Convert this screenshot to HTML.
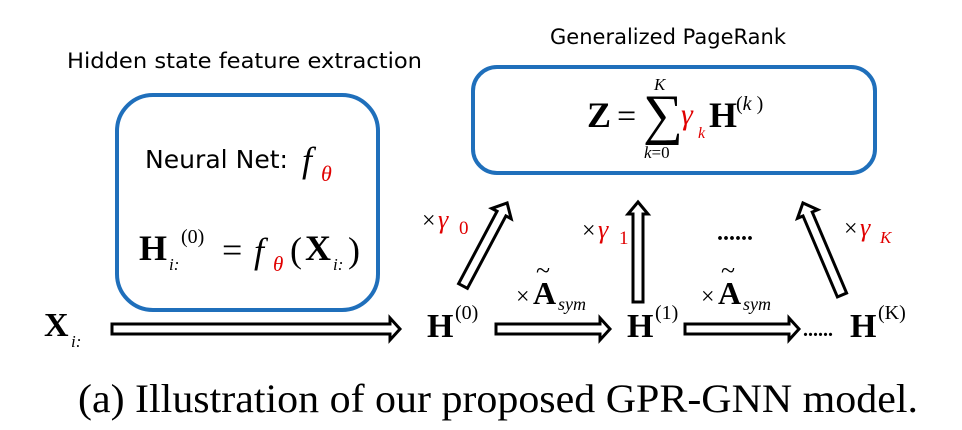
<!DOCTYPE html>
<html><head><meta charset="utf-8"><style>
html,body{margin:0;padding:0;background:#fff;}
svg{display:block;}
.s{font-family:"DejaVu Sans","Liberation Sans",sans-serif;}
.m{font-family:"Liberation Serif",serif;}
.r{fill:#e00000;}
</style></head><body>
<svg width="962" height="430" viewBox="0 0 962 430" xmlns="http://www.w3.org/2000/svg">
<rect x="117" y="95" width="261" height="215" rx="36" fill="none" stroke="#1f6fbb" stroke-width="4"/>
<rect x="473" y="67" width="402" height="106" rx="24" fill="none" stroke="#1f6fbb" stroke-width="4"/>
<text class="s" x="67" y="68" font-size="21" textLength="355" lengthAdjust="spacingAndGlyphs">Hidden state feature extraction</text>
<text class="s" x="550" y="44" font-size="21" textLength="236" lengthAdjust="spacingAndGlyphs">Generalized PageRank</text>
<text class="s" x="145" y="168" font-size="25" textLength="143" lengthAdjust="spacingAndGlyphs">Neural Net:</text>
<text class="m" x="302" y="172" font-size="36" font-style="italic">f</text>
<text class="m r" x="321" y="181" font-size="22" font-style="italic">θ</text>
<g class="m">
<text x="139" y="260" font-size="36" font-weight="bold">H</text>
<text x="169" y="270" font-size="17" font-style="italic">i:</text>
<text x="181" y="243" font-size="20">(0)</text>
<text x="222" y="262" font-size="36">=</text>
<text x="254" y="263" font-size="36" font-style="italic">f</text>
<text class="r" x="273" y="271" font-size="21" font-style="italic">θ</text>
<text x="290" y="262" font-size="36">(</text>
<text x="305" y="260" font-size="36" font-weight="bold">X</text>
<text x="333" y="270" font-size="17" font-style="italic">i:</text>
<text x="348" y="262" font-size="36">)</text>

<text x="44" y="336" font-size="34" font-weight="bold">X</text>
<text x="71" y="347" font-size="17" font-style="italic">i:</text>

<text x="587" y="127" font-size="36" font-weight="bold">Z</text>
<text x="617" y="127" font-size="34">=</text>
<text x="643" y="133" font-size="56">∑</text>
<text x="654" y="90" font-size="17" font-style="italic">K</text>
<text x="644" y="158" font-size="17"><tspan font-style="italic">k</tspan>=0</text>
<text class="r" x="681" y="124" font-size="30" font-style="italic">γ</text>
<text class="r" x="698" y="138" font-size="16" font-style="italic">k</text>
<text x="709" y="127" font-size="36" font-weight="bold">H</text>
<text x="736" y="110" font-size="20">(<tspan font-style="italic">k</tspan> )</text>

<text x="427" y="337" font-size="34" font-weight="bold">H</text>
<text x="455" y="319" font-size="20">(0)</text>
<text x="627" y="337" font-size="34" font-weight="bold">H</text>
<text x="655" y="319" font-size="20">(1)</text>
<text x="850" y="337" font-size="34" font-weight="bold">H</text>
<text x="878" y="319" font-size="20">(K)</text>

<text x="422" y="228" font-size="24">×</text><text class="r" x="438" y="228" font-size="26" font-style="italic">γ</text><text class="r" x="459" y="234" font-size="19">0</text>
<text x="582" y="238" font-size="24">×</text><text class="r" x="598" y="238" font-size="26" font-style="italic">γ</text><text class="r" x="619" y="244" font-size="19">1</text>
<text x="844" y="236" font-size="24">×</text><text class="r" x="860" y="236" font-size="26" font-style="italic">γ</text><text class="r" x="880" y="243" font-size="17" font-style="italic">K</text>
<text x="717" y="240" font-size="24" font-weight="bold">......</text>
<text x="803" y="336" font-size="20" font-weight="bold">......</text>

<text x="516" y="304" font-size="24">×</text><text x="533" y="304" font-size="32" font-weight="bold">A</text><text x="558" y="310" font-style="italic" font-size="18">sym</text>
<text x="536" y="279" font-size="26">~</text>
<text x="701" y="304" font-size="24">×</text><text x="718" y="304" font-size="32" font-weight="bold">A</text><text x="743" y="310" font-style="italic" font-size="18">sym</text>
<text x="721" y="279" font-size="26">~</text>

<text x="78" y="412" font-size="40" textLength="840" lengthAdjust="spacingAndGlyphs">(a) Illustration of our proposed GPR-GNN model.</text>
</g>
<g fill="#fff" stroke="#000" stroke-width="3" stroke-linejoin="miter">
<polygon points="112,324 390,324 390,318 400,329 390,340 390,334 112,334"/>
<polygon points="496,324 600,324 600,318 610,329 600,340 600,334 496,334"/>
<polygon points="685,324 789,324 789,318 799,329 789,340 789,334 685,334"/>
<polygon points="633,302 633,214 628,214 638,202 648,214 643,214 643,302"/>
</g>
<g fill="#fff" stroke="#000" stroke-width="3">
<g transform="translate(463,286) rotate(-62)">
<polygon points="0,-5 82,-5 82,-11 94,0 82,11 82,5 0,5"/>
</g>
<g transform="translate(842,295) rotate(-113)">
<polygon points="0,-5 88,-5 88,-11 100,0 88,11 88,5 0,5"/>
</g>
</g>
</svg>
</body></html>
